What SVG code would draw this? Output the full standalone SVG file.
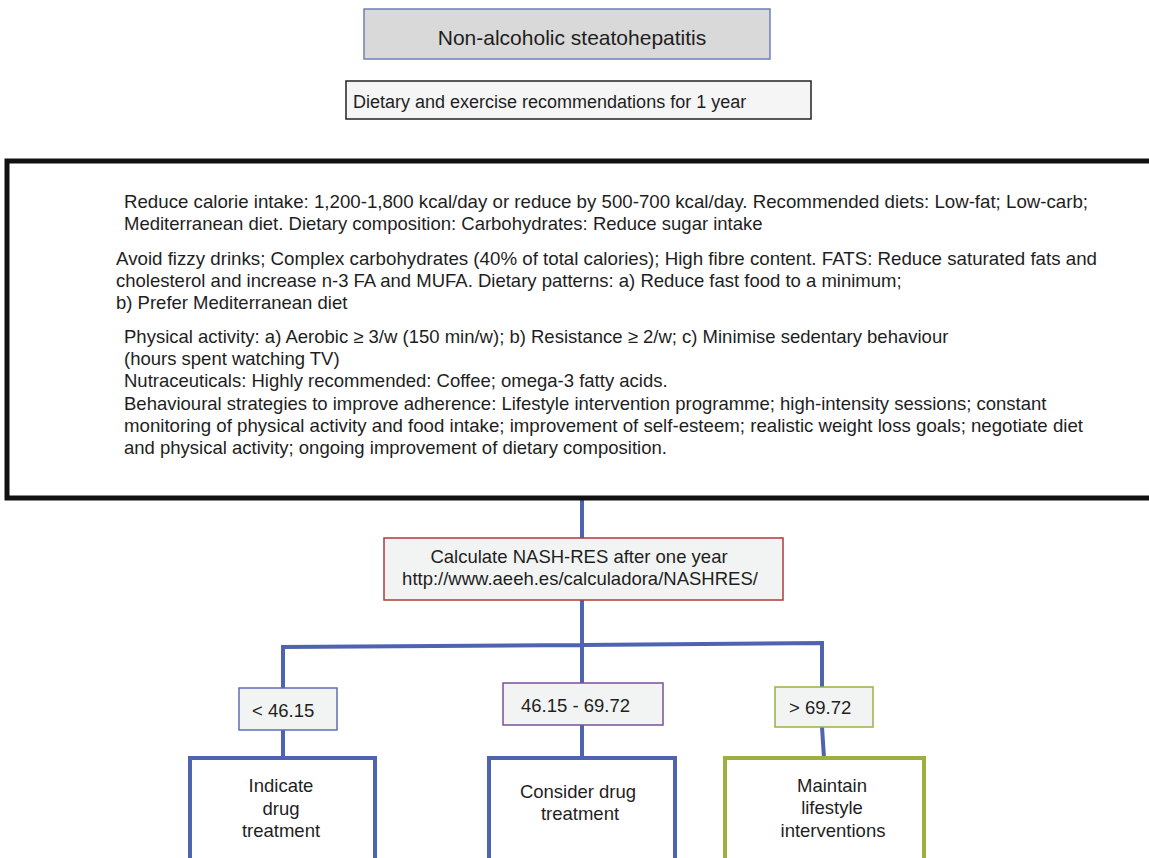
<svg xmlns="http://www.w3.org/2000/svg" width="1149" height="858" viewBox="0 0 1149 858">
<style>
text{font-family:"Liberation Sans",Arial,sans-serif;fill:#1e1e1e}
.body{font-size:18.5px}
.lbl{font-size:18.5px}
.conn{fill:none;stroke:#4f64b0;stroke-width:4}
.small{fill:#f2f4f3;stroke-width:1.5}
.out{fill:#fff;stroke-width:4}
.c{text-anchor:middle}
</style>
<rect width="1149" height="858" fill="#fff"/>
<g id="connectors">
<path class="conn" d="M582,498 V538 M582,600 V683 M283,688 V647 L582,645 L822,643 V687 M283,730 V758 M582,725 V758 M822,727 L824,758"/>
</g>
<g id="title">
<rect x="364" y="9" width="406" height="50" fill="#d9d9d9" stroke="#6f7fb5" stroke-width="1.5"/>
<text x="572" y="45" class="c" font-size="21">Non-alcoholic steatohepatitis</text>
</g>
<g id="recommendations">
<rect x="346" y="81" width="465" height="38" fill="#f4f5f4" stroke="#222" stroke-width="1.5"/>
<text x="353" y="108" font-size="18">Dietary and exercise recommendations for 1 year</text>
</g>
<g id="details">
<rect x="7" y="161" width="1160" height="337" fill="#fff" stroke="#111" stroke-width="5"/>
<text class="body" x="124" y="208" textLength="964" lengthAdjust="spacingAndGlyphs">Reduce calorie intake: 1,200-1,800 kcal/day or reduce by 500-700 kcal/day. Recommended diets: Low-fat; Low-carb;</text>
<text class="body" x="124" y="230">Mediterranean diet. Dietary composition: Carbohydrates: Reduce sugar intake</text>
<text class="body" x="116" y="265" textLength="981" lengthAdjust="spacingAndGlyphs">Avoid fizzy drinks; Complex carbohydrates (40% of total calories); High fibre content. FATS: Reduce saturated fats and</text>
<text class="body" x="116" y="287">cholesterol and increase n-3 FA and MUFA. Dietary patterns: a) Reduce fast food to a minimum;</text>
<text class="body" x="116" y="309">b) Prefer Mediterranean diet</text>
<text class="body" x="124" y="343">Physical activity: a) Aerobic ≥ 3/w (150 min/w); b) Resistance ≥ 2/w; c) Minimise sedentary behaviour</text>
<text class="body" x="124" y="365">(hours spent watching TV)</text>
<text class="body" x="124" y="387">Nutraceuticals: Highly recommended: Coffee; omega-3 fatty acids.</text>
<text class="body" x="124" y="410">Behavioural strategies to improve adherence: Lifestyle intervention programme; high-intensity sessions; constant</text>
<text class="body" x="124" y="432" textLength="959" lengthAdjust="spacingAndGlyphs">monitoring of physical activity and food intake; improvement of self-esteem; realistic weight loss goals; negotiate diet</text>
<text class="body" x="124" y="454">and physical activity; ongoing improvement of dietary composition.</text>
</g>
<g id="nashres">
<rect x="384" y="538" width="399" height="62" fill="#f2f4f3" stroke="#b03a3a" stroke-width="1.5"/>
<text class="body c" x="579" y="563">Calculate NASH-RES after one year</text>
<text class="body c" x="580" y="585">http://www.aeeh.es/calculadora/NASHRES/</text>
</g>
<g id="low">
<rect class="small" x="239" y="688" width="98" height="42" stroke="#5b6fb5"/>
<text class="lbl" x="252" y="717">&lt; 46.15</text>
</g>
<g id="mid">
<rect class="small" x="503" y="683" width="160" height="42" stroke="#7b4f9e"/>
<text class="lbl" x="521" y="712">46.15 - 69.72</text>
</g>
<g id="high">
<rect class="small" x="775" y="687" width="98" height="40" stroke="#9bb040"/>
<text class="lbl" x="789" y="714">&gt; 69.72</text>
</g>
<g id="indicate">
<rect class="out" x="190" y="758" width="185" height="120" stroke="#4f64b0"/>
<text class="body c" x="281" y="792">Indicate</text>
<text class="body c" x="281" y="815">drug</text>
<text class="body c" x="281" y="837">treatment</text>
</g>
<g id="consider">
<rect class="out" x="489" y="758" width="186" height="120" stroke="#4f64b0"/>
<text class="body c" x="578" y="798">Consider drug</text>
<text class="body c" x="580" y="820">treatment</text>
</g>
<g id="maintain">
<rect class="out" x="725" y="758" width="199" height="120" stroke="#9bb040"/>
<text class="body c" x="832" y="792">Maintain</text>
<text class="body c" x="832" y="814">lifestyle</text>
<text class="body c" x="833" y="837">interventions</text>
</g>
</svg>
